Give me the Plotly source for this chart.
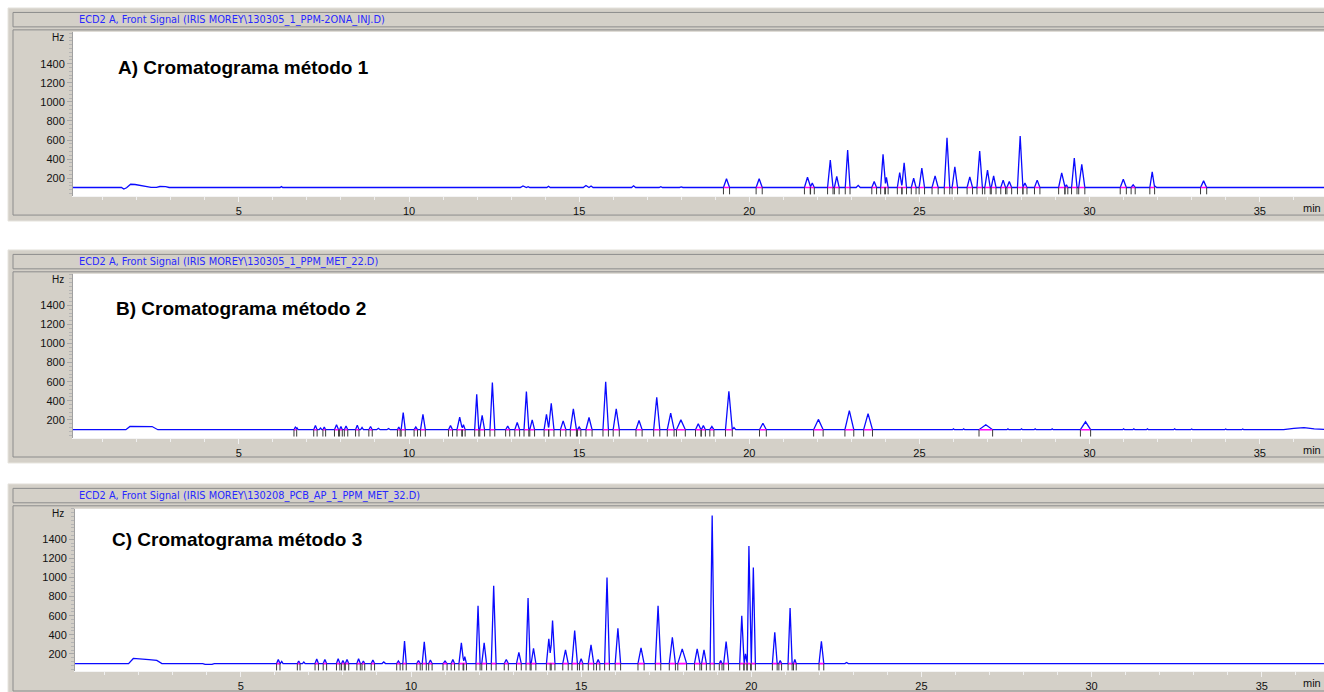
import numpy as np
import plotly.graph_objects as go

W, H = 1324, 692

# ---------------- Panel A: método 1 ----------------
a_file = "ECD2 A, Front Signal (IRIS MOREY\\130305_1_PPM-2ONA_INJ.D)"
a_label = "A) Cromatograma método 1"
a_base = 103
a_drift_t = [0.0, 1.55, 1.62, 1.70, 1.82, 1.95, 2.30, 2.42, 2.58, 2.68, 2.85, 2.95, 37.0]
a_drift_hz = [103, 103, 86, 100, 137, 134, 113, 104, 104, 113, 112, 103, 103]
a_peak_rt = [6.25, 11.8, 13.35, 13.5, 14.1, 15.2, 15.35, 16.6, 17.4, 18.0,
             19.33, 20.29, 21.0, 21.71, 21.85, 22.38, 22.57, 22.89, 23.2, 23.67,
             23.93, 24.03, 24.42, 24.55, 24.83, 25.07, 25.46, 25.81, 26.04, 26.48,
             26.77, 27.0, 27.18, 27.46, 27.64, 27.96, 28.1, 28.46, 29.18, 29.32,
             29.55, 29.77, 30.99, 31.28, 31.84, 31.93, 33.35,
             35.9, 36.15, 36.4, 36.6]
a_peak_hz = [112, 108, 120, 112, 116, 124, 118, 120, 112, 109,
             195, 195, 110, 210, 150, 390, 218, 495, 125, 165,
             450, 210, 260, 362, 200, 305, 225, 625, 320, 215,
             485, 285, 225, 180, 165, 642, 150, 180, 255, 130,
             412, 346, 190, 130, 266, 115, 172,
             108, 108, 108, 108]
a_peak_hw = [0.04, 0.05, 0.08, 0.05, 0.05, 0.08, 0.06, 0.06, 0.05, 0.05,
             0.09, 0.09, 0.05, 0.09, 0.06, 0.08, 0.07, 0.07, 0.06, 0.07,
             0.07, 0.05, 0.07, 0.07, 0.07, 0.08, 0.09, 0.08, 0.08, 0.08,
             0.08, 0.08, 0.07, 0.07, 0.07, 0.08, 0.06, 0.08, 0.09, 0.04,
             0.08, 0.09, 0.09, 0.06, 0.07, 0.04, 0.09,
             0.03, 0.03, 0.03, 0.03]

# ---------------- Panel B: método 2 ----------------
b_file = "ECD2 A, Front Signal (IRIS MOREY\\130305_1_PPM_MET_22.D)"
b_label = "B) Cromatograma método 2"
b_base = 97
b_drift_t = [0.0, 1.68, 1.80, 2.00, 2.45, 2.62, 35.7, 36.0, 36.3, 36.6, 37.0]
b_drift_hz = [97, 97, 131, 133, 130, 97, 97, 110, 118, 105, 98]
b_peak_rt = [6.66, 6.71, 7.25, 7.40, 7.51, 7.87, 8.0, 8.15, 8.48, 8.62,
             8.87, 9.1, 9.4, 9.7, 9.83, 10.2, 10.41, 11.22, 11.49, 11.6,
             11.99, 12.15, 12.45, 12.9, 13.18, 13.45, 13.62, 14.04, 14.18, 14.53,
             14.83, 15.0, 15.29, 15.78, 16.09, 16.76, 17.28, 17.69, 17.99, 18.5,
             18.65, 18.9, 19.4, 19.55, 20.4, 22.03, 22.94, 23.49, 26.0, 26.3,
             26.95, 27.6, 28.0, 28.4, 28.9, 29.88, 31.0, 31.3, 31.7, 32.5,
             33.0, 34.0, 34.5]
b_peak_hz = [125, 115, 140, 115, 125, 150, 130, 135, 145, 120,
             130, 112, 110, 125, 277, 125, 259, 140, 228, 150,
             468, 246, 590, 135, 173, 496, 200, 259, 374, 190,
             315, 125, 225, 600, 315, 194, 437, 270, 200, 160,
             140, 130, 500, 120, 165, 205, 296, 265, 106, 106,
             148, 106, 106, 106, 106, 180, 106, 106, 106, 106,
             105, 105, 105]
b_peak_hw = [0.04, 0.03, 0.05, 0.04, 0.04, 0.06, 0.04, 0.05, 0.05, 0.04,
             0.05, 0.05, 0.05, 0.04, 0.06, 0.05, 0.07, 0.06, 0.08, 0.05,
             0.06, 0.07, 0.07, 0.06, 0.07, 0.07, 0.07, 0.07, 0.08, 0.08,
             0.09, 0.05, 0.09, 0.08, 0.09, 0.09, 0.09, 0.10, 0.13, 0.08,
             0.06, 0.06, 0.10, 0.05, 0.10, 0.14, 0.13, 0.13, 0.03, 0.03,
             0.20, 0.03, 0.03, 0.03, 0.03, 0.15, 0.03, 0.03, 0.03, 0.03,
             0.03, 0.03, 0.03]

# ---------------- Panel C: método 3 ----------------
c_file = "ECD2 A, Front Signal (IRIS MOREY\\130208_PCB_AP_1_PPM_MET_32.D)"
c_label = "C) Cromatograma método 3"
c_base = 98
c_drift_t = [0.0, 1.70, 1.84, 1.95, 2.30, 2.53, 2.68, 3.88, 3.95, 4.15, 4.22, 37.0]
c_drift_hz = [98, 98, 152, 150, 140, 131, 98, 98, 90, 90, 98, 98]
c_peak_rt = [6.1, 6.2, 6.7, 6.85, 7.23, 7.47, 7.86, 8.0, 8.12, 8.46,
             8.6, 8.88, 9.2, 9.63, 9.81, 10.22, 10.39, 10.57, 11.0, 11.23,
             11.48, 11.58, 11.97, 12.15, 12.43, 12.8, 13.17, 13.44, 13.6, 14.05,
             14.16, 14.54, 14.81, 15.0, 15.29, 15.5, 15.76, 16.08, 16.76, 17.26,
             17.68, 17.97, 18.41, 18.61, 18.85, 19.1, 19.26, 19.72, 19.83, 19.93,
             20.06, 20.69, 20.85, 21.14, 21.28, 22.06, 22.8]
c_peak_hz = [140, 120, 125, 115, 145, 140, 150, 130, 140, 150,
             125, 135, 115, 125, 335, 130, 325, 135, 125, 140,
             315, 170, 705, 315, 914, 140, 215, 784, 259, 357,
             548, 242, 444, 150, 294, 140, 1000, 468, 263, 705,
             374, 252, 252, 242, 1650, 130, 329, 600, 200, 1331,
             1105, 426, 130, 680, 140, 332, 110]
c_peak_hw = [0.05, 0.04, 0.04, 0.04, 0.05, 0.05, 0.05, 0.04, 0.05, 0.05,
             0.04, 0.05, 0.05, 0.05, 0.05, 0.05, 0.06, 0.05, 0.06, 0.05,
             0.07, 0.05, 0.06, 0.07, 0.07, 0.06, 0.07, 0.06, 0.07, 0.07,
             0.07, 0.08, 0.08, 0.05, 0.08, 0.05, 0.07, 0.08, 0.09, 0.08,
             0.09, 0.13, 0.08, 0.07, 0.06, 0.04, 0.07, 0.06, 0.04, 0.05,
             0.06, 0.07, 0.04, 0.06, 0.04, 0.07, 0.05]

x_ticks = [5, 10, 15, 20, 25, 30, 35]
y_ticks = [200, 400, 600, 800, 1000, 1200, 1400]

# pixel layout of each instrument window: vertical offset, plot box, time origin
panels = [
    dict(file=a_file, label=a_label, base=a_base, dt=a_drift_t, dh=a_drift_hz,
         rt=a_peak_rt, hz=a_peak_hz, hw=a_peak_hw,
         dy=0, top=32, bottom=197, y200=179.0, left=73, x0=68.7, lab=(116, 68)),
    dict(file=b_file, label=b_label, base=b_base, dt=b_drift_t, dh=b_drift_hz,
         rt=b_peak_rt, hz=b_peak_hz, hw=b_peak_hw,
         dy=243, top=275, bottom=440, y200=421.7, left=73, x0=68.7, lab=(114, 310)),
    dict(file=c_file, label=c_label, base=c_base, dt=c_drift_t, dh=c_drift_hz,
         rt=c_peak_rt, hz=c_peak_hz, hw=c_peak_hw,
         dy=478, top=511, bottom=674, y200=656.7, left=75, x0=70.7, lab=(110, 542)),
]

PX_PER_MIN = 34.03
HZ_PER_PX = 10.435
FRAME = "#d4d0c8"
EDGE = "#8c8c8c"

def px(x):
    return x / W

def py(y):
    return 1 - y / H

def trace_of(p):
    rt = np.array(p["rt"], float)
    hz = np.array(p["hz"], float)
    hw = np.array(p["hw"], float)
    t = np.unique(np.concatenate([p["dt"], rt - hw, rt, rt + hw]))
    sig = np.interp(t, p["dt"], p["dh"])
    for r, h, w in zip(rt, hz, hw):
        sig += (h - p["base"]) * np.clip(1 - np.abs(t - r) / w, 0, None)
    return t.tolist(), sig.tolist()

fig = go.Figure()
shapes, annotations = [], []
layout_axes = {}

for i, p in enumerate(panels):
    n = "" if i == 0 else str(i + 1)
    xa, ya = "x" + n, "y" + n
    dy = p["dy"]

    t, sig = trace_of(p)
    fig.add_trace(go.Scatter(x=t, y=sig, mode="lines", xaxis=xa, yaxis=ya,
                             line=dict(color="#0a0aff", width=1.3),
                             hoverinfo="skip", showlegend=False))

    # integration baselines and peak start/stop marks
    segx, segy, marks = [], [], []
    for r, h, w in zip(p["rt"], p["hz"], p["hw"]):
        if h - p["base"] > 25:
            segx += [r - w, r + w, None]
            segy += [p["base"], p["base"], None]
            marks += [r - w, r + w]
    fig.add_trace(go.Scatter(x=segx, y=segy, mode="lines", xaxis=xa, yaxis=ya,
                             line=dict(color="#ff00ff", width=1.6),
                             connectgaps=False, hoverinfo="skip", showlegend=False))
    fig.add_trace(go.Scatter(x=marks, y=[p["base"] - 35] * len(marks), mode="markers",
                             xaxis=xa, yaxis=ya,
                             marker=dict(symbol="line-ns", size=5, color="#3a3a3a",
                                         line=dict(color="#3a3a3a", width=1)),
                             hoverinfo="skip", showlegend=False))

    # axis geometry from the pixel calibration of the window
    xr = [(p["left"] - p["x0"]) / PX_PER_MIN, (W - p["x0"]) / PX_PER_MIN]
    yr = [200 - (p["bottom"] - p["y200"]) * HZ_PER_PX, 200 + (p["y200"] - p["top"]) * HZ_PER_PX]
    layout_axes["xaxis" + n] = dict(
        domain=[px(p["left"]), 1], range=xr, anchor=ya,
        showgrid=False, zeroline=False, showline=True, linecolor="#f4f4f4", linewidth=1,
        ticks="outside", ticklen=5, tickcolor="#f0f0f0", tickwidth=1,
        tickvals=x_ticks, ticktext=[str(v) for v in x_ticks],
        tickfont=dict(family="Liberation Sans", size=11, color="#111111"),
        minor=dict(dtick=1, tick0=0, ticks="outside", ticklen=3, tickcolor="#f0f0f0", showgrid=False),
        fixedrange=True)
    layout_axes["yaxis" + n] = dict(
        domain=[py(p["bottom"]), py(p["top"])], range=yr, anchor=xa,
        showgrid=False, zeroline=False, showline=True, linecolor="#a0a0a0", linewidth=1,
        ticks="outside", ticklen=5, tickcolor="#a8a8a8", tickwidth=1,
        tickvals=y_ticks, ticktext=[str(v) for v in y_ticks],
        tickfont=dict(family="Liberation Sans", size=11, color="#111111"),
        minor=dict(dtick=40, tick0=0, ticks="outside", ticklen=3, tickcolor="#b4b4b4", showgrid=False),
        fixedrange=True)

    # window chrome
    shapes += [
        dict(type="rect", xref="paper", yref="paper", layer="below",
             x0=px(8), x1=px(1340), y0=py(222 + dy), y1=py(8 + dy),
             fillcolor=FRAME, line=dict(color="#e6e4de", width=1)),
        dict(type="rect", xref="paper", yref="paper", layer="below",
             x0=px(13), x1=px(1340), y0=py(27 + dy), y1=py(12.5 + dy),
             fillcolor=FRAME, line=dict(color=EDGE, width=1)),
        dict(type="rect", xref="paper", yref="paper", layer="below",
             x0=px(13), x1=px(1340), y0=py(216 + dy), y1=py(30 + dy),
             fillcolor=FRAME, line=dict(color=EDGE, width=1)),
        dict(type="rect", xref="paper", yref="paper", layer="below",
             x0=px(p["left"]), x1=px(1340), y0=py(p["bottom"]), y1=py(p["top"]),
             fillcolor="#ffffff", line=dict(width=0)),
    ]
    annotations += [
        dict(text=p["file"], xref="paper", yref="paper", x=px(77), y=py(20 + dy),
             xanchor="left", yanchor="middle", showarrow=False,
             font=dict(family="DejaVu Sans", size=9.8, color="#2828ff")),
        dict(text="<b>" + p["label"] + "</b>", xref="paper", yref="paper",
             x=px(p["lab"][0]), y=py(p["lab"][1]), xanchor="left", yanchor="middle",
             showarrow=False, font=dict(family="Liberation Sans", size=19, color="#000000")),
        dict(text="Hz", xref="paper", yref="paper", x=px(66), y=py(38 + dy),
             xanchor="right", yanchor="middle", showarrow=False,
             font=dict(family="Liberation Sans", size=10, color="#111111")),
        dict(text="min", xref="paper", yref="paper", x=px(1323), y=py(p["bottom"] + 12),
             xanchor="right", yanchor="middle", showarrow=False,
             font=dict(family="Liberation Sans", size=11, color="#111111")),
    ]

fig.update_layout(
    width=W, height=H, margin=dict(l=0, r=0, t=0, b=0),
    paper_bgcolor="#ffffff", plot_bgcolor="#ffffff",
    shapes=shapes, annotations=annotations, showlegend=False,
    **layout_axes,
)

fig.write_html("out.html")
